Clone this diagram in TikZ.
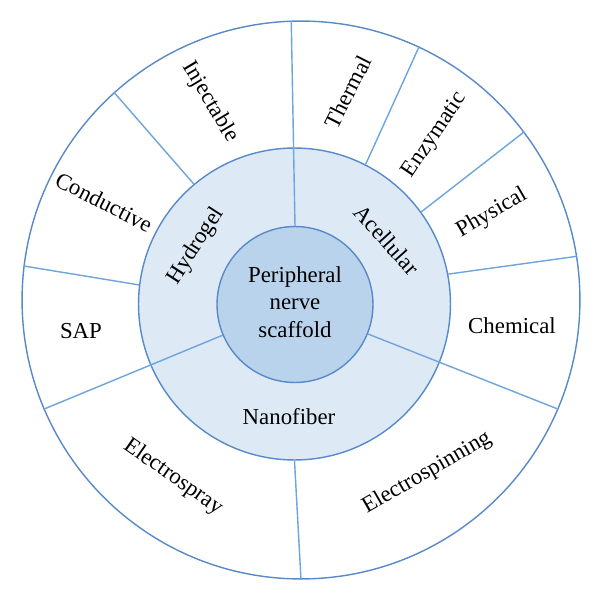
\documentclass[tikz,border=0pt]{standalone}
\usepackage{fontspec}
\setmainfont{Liberation Serif}
\usepackage{tikz}
\usetikzlibrary{positioning}
\definecolor{RimBlue}{RGB}{88, 138, 200}
\definecolor{SpokeBlue}{RGB}{110, 165, 220}
\definecolor{RingFill}{RGB}{221, 234, 246}
\definecolor{CoreFill}{RGB}{186, 211, 236}

\begin{document}
\begin{tikzpicture}[x=0.02cm, y=0.02cm,
		ring/.style={draw=RimBlue, line width=0.8pt, circle, inner sep=0pt},
		spoke/.style={draw=SpokeBlue, line width=0.8pt},
		lbl/.style={font=\fontsize{13}{15.5}\selectfont, inner sep=1pt}]
	\useasboundingbox (0,0) rectangle (600,600);
	% Kreise
	\node[ring, fill=white, minimum size=11.16cm] (outer) at (301,300) {};
	\node[ring, fill=RingFill, minimum size=6.24cm] (mid) at (294.5,296) {};
	\node[ring, fill=CoreFill, minimum size=3.12cm] (core) at (295,295.5) {};

	% Speichen durch beide Ringe
	\draw[spoke] (core.90) -- (outer.92);
	\draw[spoke] (core.203.3) -- (outer.203.6);
	\draw[spoke] (core.338) -- (outer.337.9);
	% Speichen im aeusseren Ring
	\draw[spoke] (mid.130.2) -- (outer.132);
	\draw[spoke] (mid.173) -- (outer.173.9);
	\draw[spoke] (mid.270) -- (outer.270.2);
	\draw[spoke] (mid.11) -- (outer.9.2);
	\draw[spoke] (mid.36.3) -- (outer.37.3);
	\draw[spoke] (mid.63.4) -- (outer.65.5);

	% Mitte
	\node[lbl, align=center] (center) at (295,298) {Peripheral\\nerve\\scaffold};
	% innerer Ring
	\node[lbl, rotate=57] (hydrogel) at (196,354) {Hydrogel};
	\node[lbl, rotate=-48] (acellular) at (387,360) {Acellular};
	\node[lbl] (nanofiber) at (289,183) {Nanofiber};
	% aeusserer Ring
	\node[lbl, rotate=-59] (injectable) at (210,498) {Injectable};
	\node[lbl, rotate=63] (thermal) at (348,508) {Thermal};
	\node[lbl, rotate=56] (enzymatic) at (435,465) {Enzymatic};
	\node[lbl, rotate=30] (physical) at (492,387) {Physical};
	\node[lbl] (chemical) at (512,274) {Chemical};
	\node[lbl, rotate=30] (espinning) at (427,127) {Electrospinning};
	\node[lbl, rotate=-35] (espray) at (173,123) {Electrospray};
	\node[lbl] (sap) at (81,269) {SAP};
	\node[lbl, rotate=-27] (conductive) at (104,398) {Conductive};
\end{tikzpicture}
\end{document}
